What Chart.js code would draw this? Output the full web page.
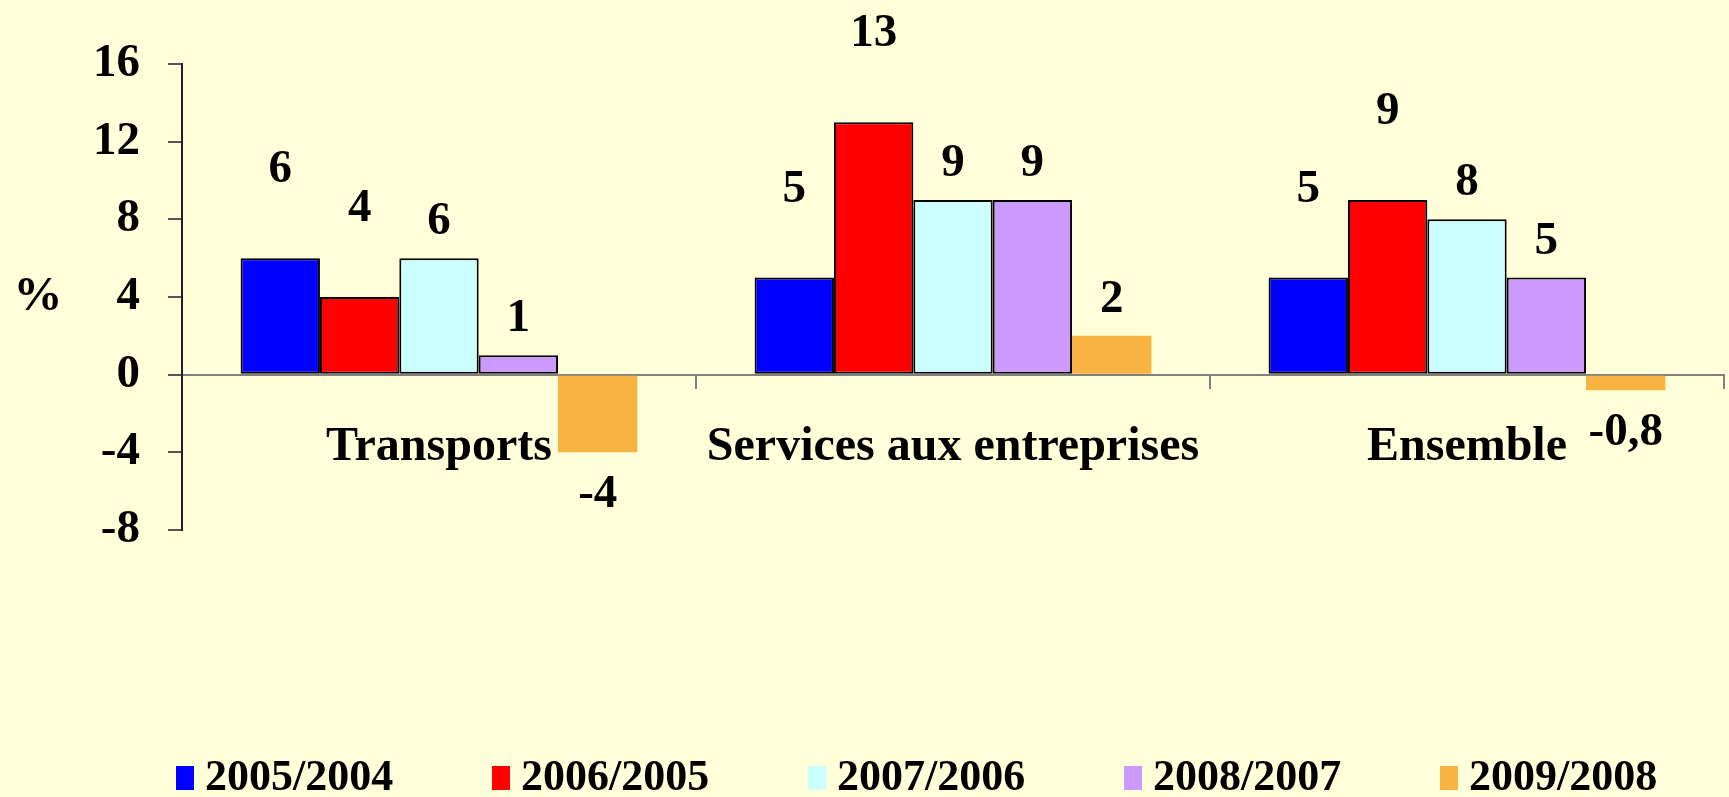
<!DOCTYPE html>
<html>
<head>
<meta charset="utf-8">
<script src="https://cdn.jsdelivr.net/npm/chart.js@4/dist/chart.umd.min.js"></script>
<style>
  html, body { margin: 0; padding: 0; background: #FFFFDA; }
  #wrap { width: 1729px; height: 797px; position: relative; }
</style>
</head>
<body>
<div id="wrap"><canvas id="graphique"></canvas></div>
<script>
// données
const categories = ['Transports', 'Services aux entreprises', 'Ensemble'];
const periodes = ['2005/2004', '2006/2005', '2007/2006', '2008/2007', '2009/2008'];
const v2005 = [6, 5, 5];
const v2006 = [4, 13, 9];
const v2007 = [6, 9, 8];
const v2008 = [1, 9, 5];
const v2009 = [-4, 2, -0.8];
const yMin = -8, yMax = 16, yStep = 4;

const couleurs = ['#0000FF', '#FF0000', '#CCFFFF', '#CC99FF', '#F8B442'];
const bordures = [2, 2, 2, 2, 0];
const police = 'Liberation Serif, Times New Roman, serif';

// étiquettes de valeur au-dessus / en dessous des barres
const etiquettes = {
  id: 'etiquettes',
  afterDatasetsDraw(chart, args, opts) {
    const ctx = chart.ctx;
    ctx.save();
    ctx.font = 'bold 47px ' + police;
    ctx.fillStyle = '#000';
    ctx.textAlign = 'center';
    ctx.textBaseline = 'middle';
    chart.data.datasets.forEach((ds, i) => {
      chart.getDatasetMeta(i).data.forEach((barre, j) => {
        const v = ds.data[j];
        const y = v < 0 ? barre.y + opts.dessous : barre.y - opts.dessus[i];
        ctx.fillText(String(v).replace('.', ','), barre.x, y);
      });
    });
    // le "%" à hauteur de la graduation 4
    ctx.font = 'bold 49px ' + police;
    ctx.fillText('%', 38, chart.scales.y.getPixelForValue(4));
    ctx.restore();
  }
};

// légende dessinée à la main (espacement large comme dans l'original)
const legende = {
  id: 'legende',
  afterDraw(chart) {
    const ctx = chart.ctx;
    ctx.save();
    ctx.font = 'bold 44px ' + police;
    ctx.textBaseline = 'middle';
    ctx.textAlign = 'left';
    chart.data.datasets.forEach((ds, i) => {
      const x = 176 + i * 316;
      ctx.fillStyle = ds.backgroundColor;
      ctx.fillRect(x, 766, 18, 24);
      ctx.fillStyle = '#000';
      ctx.fillText(ds.label, x + 29, 779);
    });
    ctx.restore();
  }
};

const series = [v2005, v2006, v2007, v2008, v2009];

new Chart(document.getElementById('graphique'), {
  type: 'bar',
  data: {
    labels: categories,
    datasets: series.map((d, i) => ({
      label: periodes[i],
      data: d,
      backgroundColor: couleurs[i],
      borderColor: '#000',
      borderWidth: bordures[i],
      borderSkipped: false,
      categoryPercentage: 0.772,
      barPercentage: 1
    }))
  },
  options: {
    responsive: true,
    maintainAspectRatio: false,
    animation: false,
    layout: { padding: { left: 0, top: 64, right: 5, bottom: 267 } },
    plugins: {
      legend: { display: false },
      tooltip: { enabled: false },
      etiquettes: { dessus: [88, 88, 36, 36, 36], dessous: 43 }
    },
    scales: {
      x: {
        position: { y: 0 },
        grid: { drawOnChartArea: false, tickLength: 13, color: '#808080', lineWidth: 2 },
        border: { color: '#808080', width: 2 },
        ticks: {
          color: '#000',
          padding: 31,
          maxRotation: 0,
          autoSkip: false,
          font: { family: police, size: 48, weight: 'bold' }
        }
      },
      y: {
        min: yMin,
        max: yMax,
        afterFit(scale) { scale.width = 182; },
        grid: { drawOnChartArea: false, tickLength: 14, color: '#555', lineWidth: 2 },
        border: { color: '#222', width: 2 },
        ticks: {
          stepSize: yStep,
          color: '#000',
          padding: 28,
          font: { family: police, size: 47, weight: 'bold' }
        }
      }
    }
  },
  plugins: [etiquettes, legende]
});
</script>
</body>
</html>
